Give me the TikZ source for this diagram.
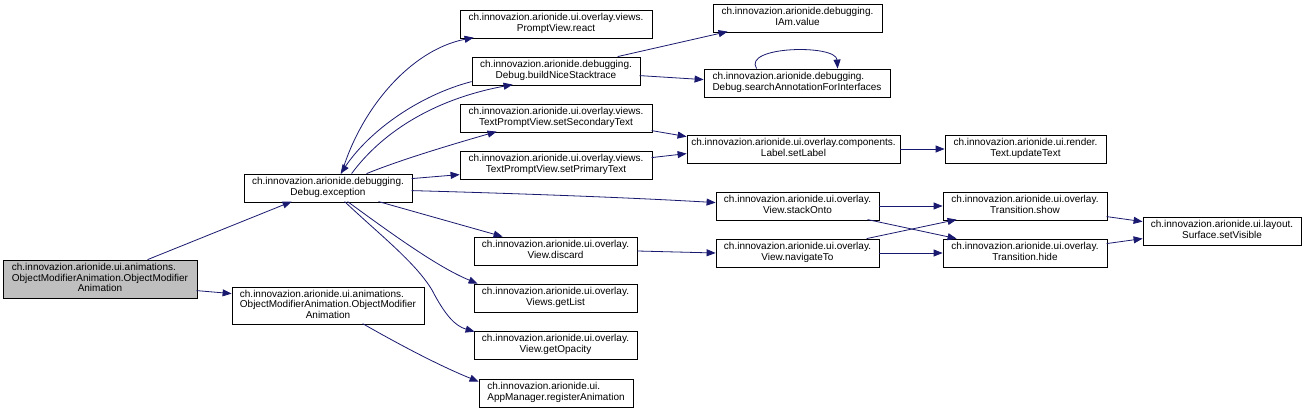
\documentclass[tikz,border=0pt]{standalone}
\usepackage{fontspec}
\setmainfont{Liberation Sans}
\usetikzlibrary{arrows.meta,calc}
\definecolor{edgeblue}{RGB}{25,25,112}
\definecolor{startgray}{RGB}{191,191,191}
\newcommand\twol[2]{\begin{tabular}{@{}l@{}}#1\\\multicolumn{1}{@{}c@{}}{#2}\end{tabular}}
\newcommand\threel[3]{\begin{tabular}{@{}l@{}}#1\\#2\\\multicolumn{1}{@{}c@{}}{#3}\end{tabular}}
\tikzset{
  fnode/.style={draw=black, line width=0.8pt, fill=white, inner sep=0pt, minimum height=28pt,
    font=\fontsize{10}{10.5}\selectfont},
  startnode/.style={fnode, fill=startgray},
  callarrow/.style={draw=edgeblue, line width=0.8pt, -{Triangle[length=9pt,width=7pt]}, fill=none},
}
\begin{document}
\begin{tikzpicture}[x=1pt,y=-1pt]
\useasboundingbox[fill=white] (0,0) rectangle (1305,411);

% nodes
\node[startnode, minimum width=194pt, minimum height=38pt] (start) at (100,279)
  {\threel{ch.innovazion.arionide.ui.animations.}{ObjectModifierAnimation.ObjectModifier}{Animation}};
\node[fnode, minimum width=192pt, minimum height=37pt] (oma) at (328,305.5)
  {\threel{ch.innovazion.arionide.ui.animations.}{ObjectModifierAnimation.ObjectModifier}{Animation}};
\node[fnode, minimum width=168pt] (exc) at (328,188)
  {\twol{ch.innovazion.arionide.debugging.}{Debug.exception}};
\node[fnode, minimum width=192pt] (react) at (556,24)
  {\twol{ch.innovazion.arionide.ui.overlay.views.}{PromptView.react}};
\node[fnode, minimum width=168pt] (bns) at (556,71)
  {\twol{ch.innovazion.arionide.debugging.}{Debug.buildNiceStacktrace}};
\node[fnode, minimum width=192pt] (sst) at (556,118)
  {\twol{ch.innovazion.arionide.ui.overlay.views.}{TextPromptView.setSecondaryText}};
\node[fnode, minimum width=192pt] (spt) at (556,165)
  {\twol{ch.innovazion.arionide.ui.overlay.views.}{TextPromptView.setPrimaryText}};
\node[fnode, minimum width=169pt] (iam) at (797.5,18)
  {\twol{ch.innovazion.arionide.debugging.}{IAm.value}};
\node[fnode, minimum width=186pt] (sai) at (797,83)
  {\twol{ch.innovazion.arionide.debugging.}{Debug.searchAnnotationForInterfaces}};
\node[fnode, minimum width=213pt] (setl) at (793.5,149)
  {\twol{ch.innovazion.arionide.ui.overlay.components.}{Label.setLabel}};
\node[fnode, minimum width=161pt] (upd) at (1025.5,149)
  {\twol{ch.innovazion.arionide.ui.render.}{Text.updateText}};
\node[fnode, minimum width=163pt] (stack) at (797.5,206)
  {\twol{ch.innovazion.arionide.ui.overlay.}{View.stackOnto}};
\node[fnode, minimum width=163pt] (nav) at (797.5,253)
  {\twol{ch.innovazion.arionide.ui.overlay.}{View.navigateTo}};
\node[fnode, minimum width=163pt] (disc) at (555.5,251)
  {\twol{ch.innovazion.arionide.ui.overlay.}{View.discard}};
\node[fnode, minimum width=163pt] (getl) at (555.5,298)
  {\twol{ch.innovazion.arionide.ui.overlay.}{Views.getList}};
\node[fnode, minimum width=163pt] (opac) at (555.5,345)
  {\twol{ch.innovazion.arionide.ui.overlay.}{View.getOpacity}};
\node[fnode, minimum width=154pt] (reg) at (556,393)
  {\twol{ch.innovazion.arionide.ui.}{AppManager.registerAnimation}};
\node[fnode, minimum width=164pt] (show) at (1025,206)
  {\twol{ch.innovazion.arionide.ui.overlay.}{Transition.show}};
\node[fnode, minimum width=164pt] (hide) at (1025,253)
  {\twol{ch.innovazion.arionide.ui.overlay.}{Transition.hide}};
\node[fnode, minimum width=158pt] (vis) at (1222,231)
  {\twol{ch.innovazion.arionide.ui.layout.}{Surface.setVisible}};

% edges
\draw[callarrow] ($(start.north west)+(145,0)$) -- ($(exc.north west)+(48,28)$);
\draw[callarrow] ($(start.north west)+(194,31)$) -- ($(oma.north west)+(0,7)$);
\draw[callarrow] ($(oma.north west)+(131,37)$) .. controls (400,345) and (440,366) .. ($(reg.north west)+(0,3)$);

\draw[callarrow] ($(exc.north west)+(98,0)$) .. controls (360,110) and (410,50) .. ($(react.north west)+(14,28)$);
\draw[callarrow] ($(bns.north west)+(0,25)$) .. controls (420,95) and (370,130) .. ($(exc.north west)+(97,0)$);
\draw[callarrow] ($(exc.north west)+(108,0)$) .. controls (380,135) and (430,100) .. ($(bns.north west)+(41,28)$);
\draw[callarrow] ($(exc.north west)+(123,0)$) .. controls (400,160) and (450,145) .. ($(sst.north west)+(37,28)$);
\draw[callarrow] ($(exc.north west)+(168,5)$) -- ($(spt.north west)+(0,24)$);
\draw[callarrow] ($(exc.north west)+(168,17)$) .. controls (500,193) and (620,197) .. ($(stack.north west)+(0,11)$);
\draw[callarrow] ($(exc.north west)+(135,28)$) -- ($(disc.north west)+(29,0)$);
\draw[callarrow] ($(exc.north west)+(104,28)$) .. controls (400,240) and (440,268) .. ($(getl.north west)+(4,0)$);
\draw[callarrow] ($(exc.north west)+(101,28)$) .. controls (380,235) and (415,262) .. (432,290) .. controls (445,315) and (455,326) .. ($(opac.north west)+(1,1)$);

\draw[callarrow] ($(bns.north west)+(146,0)$) -- ($(iam.north west)+(15,28)$);
\draw[callarrow] ($(bns.north west)+(168,19)$) -- ($(sai.north west)+(0,11)$);
\draw[callarrow] ($(sai.north west)+(53,0)$) .. controls (742,46) and (836,44) .. ($(sai.north west)+(134,0)$);

\draw[callarrow] ($(sst.north west)+(192,27)$) -- ($(setl.north west)+(0,2)$);
\draw[callarrow] ($(spt.north west)+(192,7)$) -- ($(setl.north west)+(0,19)$);
\draw[callarrow] (setl.east) -- (upd.west);

\draw[callarrow] (disc.east) -- (nav.west);
\draw[callarrow] (stack.east) -- (show.west);
\draw[callarrow] ($(stack.north west)+(152,28)$) -- ($(hide.north west)+(14,0)$);
\draw[callarrow] ($(nav.north west)+(151,0)$) -- ($(show.north west)+(14,28)$);
\draw[callarrow] (nav.east) -- (hide.west);
\draw[callarrow] ($(show.north west)+(164,25)$) -- ($(vis.north west)+(0,5)$);
\draw[callarrow] ($(hide.north west)+(164,5)$) -- ($(vis.north west)+(0,22)$);
\end{tikzpicture}
\end{document}
